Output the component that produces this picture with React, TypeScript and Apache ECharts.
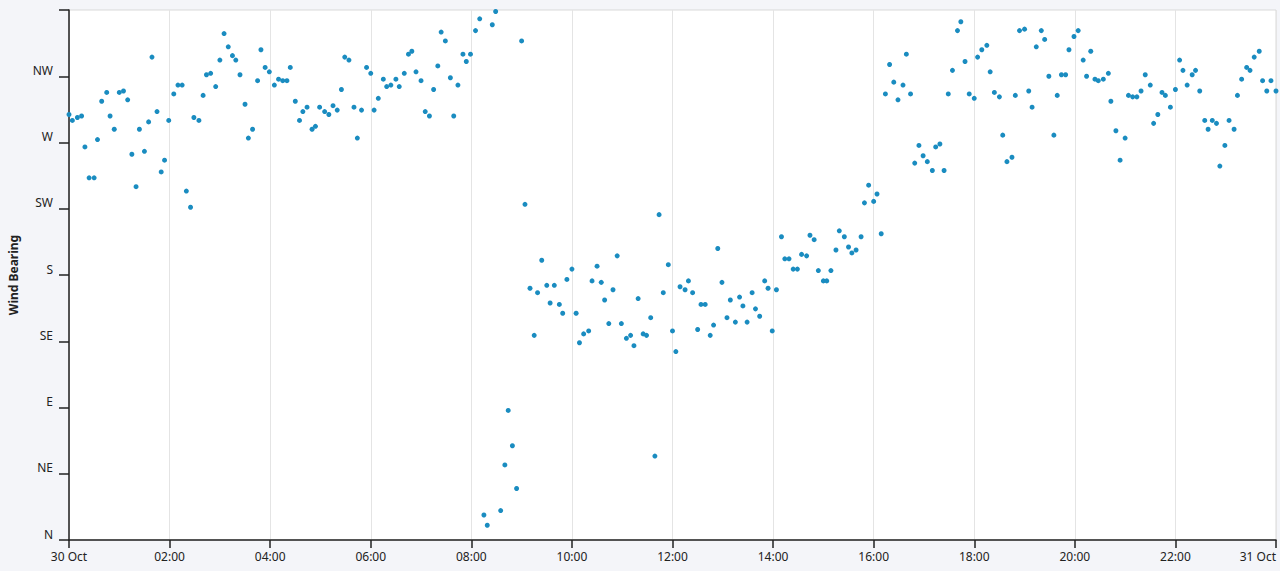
import React, { useEffect, useRef } from "react";
import * as echarts from "echarts";

// minutes since 30 Oct 00:00
const minutes = [0,4,10,15,19,24,30,34,39,45,49,54,60,65,70,75,80,84,90,95,99,105,110,114,119,125,130,135,140,145,149,155,160,164,169,175,180,185,190,195,199,204,210,214,219,225,229,234,239,245,250,255,260,264,270,275,279,284,290,294,299,305,310,315,320,325,329,334,340,344,349,355,360,364,369,375,379,384,390,394,400,405,409,414,420,425,430,435,440,444,449,455,459,464,470,474,479,485,490,495,499,505,509,515,520,524,529,534,540,544,550,555,559,564,570,574,579,585,589,594,600,605,609,614,620,624,630,635,639,644,649,654,659,665,670,674,679,685,689,694,699,704,709,715,720,724,729,735,739,744,750,754,759,765,769,774,779,785,789,795,800,804,809,815,819,824,830,834,839,844,850,854,859,864,869,874,880,884,889,894,900,904,909,915,919,925,930,934,939,945,949,954,960,964,969,974,979,984,989,995,999,1004,1009,1014,1019,1024,1030,1034,1039,1044,1049,1054,1060,1064,1069,1074,1080,1084,1089,1095,1099,1104,1110,1114,1119,1125,1129,1134,1140,1145,1149,1154,1160,1164,1169,1175,1179,1184,1189,1193,1199,1204,1210,1214,1219,1224,1228,1234,1240,1243,1249,1254,1260,1264,1269,1274,1279,1284,1290,1294,1299,1304,1308,1314,1320,1325,1329,1334,1340,1344,1349,1355,1359,1364,1369,1373,1379,1384,1390,1394,1399,1405,1409,1414,1420,1424,1429,1434,1440];

// wind bearing in degrees
const bearings = [289,285,287,288,267,246,246,272,298,304,288,279,304,305,299,262,240,279,264,284,328,291,250,258,285,303,309,309,237,226,287,285,302,316,317,308,326,344,335,329,326,316,296,273,279,312,333,321,318,309,313,312,312,321,298,285,291,294,279,281,294,291,289,295,292,306,328,326,294,273,292,321,317,292,300,313,308,309,313,308,317,330,332,318,312,291,288,306,322,345,339,314,288,309,330,325,330,346,354,17,10,350,359,20,51,88,64,35,339,228,171,139,168,190,173,161,173,160,154,177,184,154,134,140,142,176,186,175,163,147,170,193,147,137,139,132,164,140,139,151,57,221,168,187,142,128,172,170,176,168,143,160,160,139,146,198,175,151,163,148,165,159,148,168,157,152,176,171,142,170,206,191,191,184,184,194,193,207,204,183,176,176,183,197,210,206,199,195,197,206,229,241,230,235,208,303,323,311,299,309,330,303,256,268,261,257,251,267,269,251,303,319,346,352,325,303,300,328,333,336,318,304,301,275,257,260,302,346,347,305,294,335,346,340,315,275,302,316,316,333,342,346,326,315,332,313,312,313,317,298,278,258,273,302,301,301,305,316,309,283,289,304,302,294,306,326,319,309,316,319,305,285,279,285,283,254,268,285,279,302,313,321,319,328,332,312,305,312,305];

const xTickLabels = ["30 Oct","02:00","04:00","06:00","08:00","10:00","12:00","14:00","16:00","18:00","20:00","22:00","31 Oct"];
const yTickLabels = ["N","NE","E","SE","S","SW","W","NW",""];

export default function App() {
  const ref = useRef<HTMLDivElement>(null);
  useEffect(() => {
    if (!ref.current) return;
    const chart = echarts.init(ref.current, null, { renderer: "svg" });
    const n = Math.min(minutes.length, bearings.length);
    const data: number[][] = [];
    for (let i = 0; i < n; i++) data.push([minutes[i], bearings[i]]);
    const axisColor = "#222";
    chart.setOption({
      animation: false,
      backgroundColor: "#f4f5f9",
      textStyle: { fontFamily: "Noto Sans" },
      grid: {
        left: 69, right: 4, top: 10, bottom: 31,
        outerBoundsMode: "none", containLabel: false,
        show: true, backgroundColor: "#ffffff", borderColor: "#d9d9d9", borderWidth: 1,
      },
      xAxis: {
        type: "value", min: 0, max: 1440, interval: 120,
        axisLine: { lineStyle: { color: axisColor, width: 1.5 } },
        axisTick: { length: 8, lineStyle: { color: axisColor, width: 1.5 } },
        axisLabel: {
          formatter: (v: number) => xTickLabels[Math.round(v / 120)] ?? "",
          color: axisColor, fontSize: 12, margin: 10, alignMaxLabel: "right",
        },
        splitLine: { show: true, lineStyle: { color: "#e4e4e4", width: 1 } },
      },
      yAxis: {
        type: "value", min: 0, max: 360, interval: 45,
        name: "Wind Bearing", nameLocation: "middle", nameGap: 50,
        nameTextStyle: { fontWeight: "bold", fontSize: 12, color: axisColor },
        axisLine: { lineStyle: { color: axisColor, width: 1.5 } },
        axisTick: { length: 10, lineStyle: { color: axisColor, width: 1.5 } },
        axisLabel: {
          formatter: (v: number) => yTickLabels[Math.round(v / 45)] ?? "",
          color: axisColor, fontSize: 12, margin: 16, verticalAlign: "bottom",
        },
        splitLine: { show: false },
      },
      series: [{
        type: "scatter", data, symbolSize: 5,
        itemStyle: { color: "#1a8cc0", opacity: 1 },
      }],
    });
    return () => chart.dispose();
  }, []);
  return <div ref={ref} style={{ position: "fixed", left: 0, top: 0, width: 1280, height: 571 }} />;
}
